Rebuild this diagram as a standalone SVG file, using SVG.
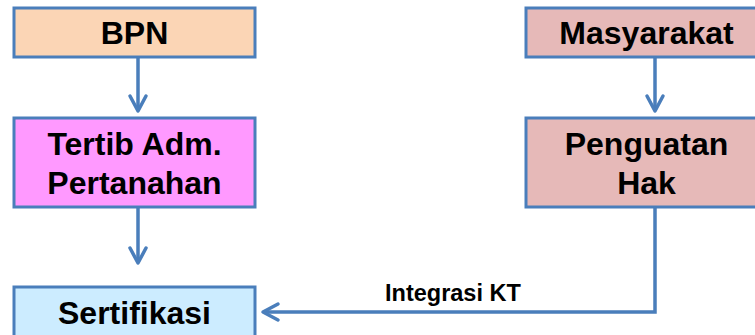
<svg xmlns="http://www.w3.org/2000/svg" width="755" height="335" viewBox="0 0 755 335">
<style>
.box{stroke:#4A7EBB;stroke-width:3}
.lbl{font-family:"Liberation Sans",Arial,sans-serif;font-weight:bold;font-size:32px;fill:#000;text-anchor:middle}
.conn{fill:none;stroke:#4A7EBB;stroke-width:3.5}
.small{font-family:"Liberation Sans",Arial,sans-serif;font-weight:bold;font-size:23.5px;fill:#000}
</style>
<defs>
<marker id="arr" markerUnits="userSpaceOnUse" markerWidth="24" markerHeight="24" viewBox="-20 -12 24 24" refX="0" refY="0" orient="auto">
<path d="M-15,-8 L0,0 L-15,8" fill="none" stroke="#4A7EBB" stroke-width="3.5" stroke-linecap="round" stroke-linejoin="round"/>
</marker>
</defs>
<g id="bpn"><rect class="box" x="14" y="8" width="241" height="49" fill="#FBD5B5"/><text class="lbl" x="134.5" y="43.5">BPN</text></g>
<g id="masyarakat"><rect class="box" x="526" y="8" width="241" height="49" fill="#E6B9B8"/><text class="lbl" x="646.5" y="43.5">Masyarakat</text></g>
<g id="tertib"><rect class="box" x="14" y="118" width="241" height="89" fill="#FF99FF"/><text class="lbl" x="134.5" y="155">Tertib Adm.</text><text class="lbl" x="134.5" y="194">Pertanahan</text></g>
<g id="penguatan"><rect class="box" x="526" y="118" width="241" height="89" fill="#E6B9B8"/><text class="lbl" x="646.5" y="155">Penguatan</text><text class="lbl" x="646.5" y="194">Hak</text></g>
<g id="sertifikasi"><rect class="box" x="14" y="287" width="241" height="60" fill="#CCECFF"/><text class="lbl" x="134.5" y="323.5">Sertifikasi</text></g>
<g id="connectors">
<path class="conn" d="M138,57 V111" marker-end="url(#arr)"/>
<path class="conn" d="M655,57 V111" marker-end="url(#arr)"/>
<path class="conn" d="M138,207 V263" marker-end="url(#arr)"/>
<path class="conn" d="M655,207 V312 H263" marker-end="url(#arr)"/>
<text class="small" x="385" y="301">Integrasi KT</text>
</g>
</svg>
